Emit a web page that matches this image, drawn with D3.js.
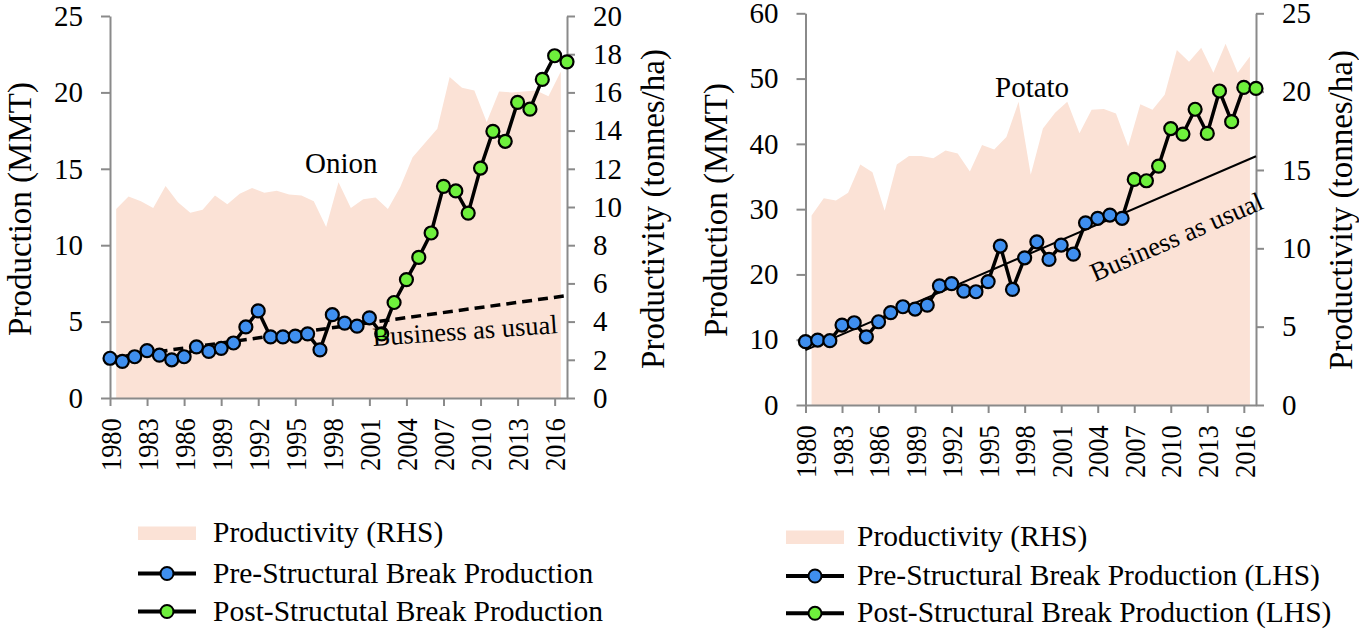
<!DOCTYPE html>
<html>
<head>
<meta charset="utf-8">
<script src="https://cdn.jsdelivr.net/npm/d3@7"></script>
<style>
  html, body { margin: 0; padding: 0; background: #fff; }
  svg { display: block; font-family: "Liberation Serif", "DejaVu Serif", serif; }
</style>
</head>
<body>
<svg id="chart" width="1359" height="632"></svg>
<script>
// ---- data ----
const years = [1980, 1981, 1982, 1983, 1984, 1985, 1986, 1987, 1988, 1989,
    1990, 1991, 1992, 1993, 1994, 1995, 1996, 1997, 1998, 1999,
    2000, 2001, 2002, 2003, 2004, 2005, 2006, 2007, 2008, 2009,
    2010, 2011, 2012, 2013, 2014, 2015, 2016, 2017];
// productivity is plotted on its own category axis (1980-2016)
const productivityYears = years.slice(0, 37);
const tickYears = [1980, 1983, 1986, 1989, 1992, 1995, 1998, 2001, 2004, 2007, 2010, 2013, 2016];

const onionProduction = [2.6, 2.4, 2.7, 3.1, 2.8, 2.5, 2.7, 3.35, 3.05, 3.25,
    3.6, 4.65, 5.7, 4.0, 4.0, 4.05, 4.2, 3.15, 5.45, 4.9,
    4.7, 5.25, 4.2, 6.25, 7.75, 9.2, 10.8, 13.85, 13.55, 12.1,
    15.05, 17.45, 16.8, 19.35, 18.9, 20.85, 22.4, 22.0];
const onionProductivity = [9.9, 10.55, 10.3, 9.95, 11.1, 10.25, 9.7, 9.85, 10.6, 10.15,
    10.7, 11.0, 10.75, 10.85, 10.65, 10.6, 10.3, 8.95, 11.3, 9.95,
    10.4, 10.5, 9.9, 11.05, 12.6, 13.35, 14.1, 16.8, 16.25, 16.1,
    14.45, 16.05, 16.0, 16.05, 16.1, 15.8, 17.1];
const onionBreakYear = 2002;
const onionBau = [{ year: 1980, value: 2.6 }, { year: 2017, value: 6.7 }];

const potatoProduction = [9.7, 9.95, 9.85, 12.25, 12.6, 10.45, 12.75, 14.15, 15.05, 14.7,
    15.3, 18.25, 18.6, 17.45, 17.35, 18.9, 24.35, 17.7, 22.55, 25.0,
    22.3, 24.5, 23.1, 27.9, 28.6, 29.1, 28.6, 34.55, 34.35, 36.6,
    42.35, 41.5, 45.3, 41.6, 48.1, 43.4, 48.65, 48.5];
const potatoProductivity = [12.1, 13.2, 13.05, 13.55, 15.35, 14.85, 12.4, 15.35, 15.9, 15.9,
    15.75, 16.25, 16.05, 14.9, 16.6, 16.3, 17.1, 19.35, 14.7, 17.65,
    18.65, 19.35, 17.35, 18.85, 18.9, 18.6, 16.5, 19.2, 18.85, 19.8,
    22.65, 21.9, 22.8, 21.2, 23.05, 21.2, 22.25];
const potatoBreakYear = 2007;
const potatoBau = [{ year: 1980, value: 8.4 }, { year: 2017, value: 38.1 }];

const onionLeftTicks = [0, 5, 10, 15, 20, 25];
const onionRightTicks = [0, 2, 4, 6, 8, 10, 12, 14, 16, 18, 20];
const potatoLeftTicks = [0, 10, 20, 30, 40, 50, 60];
const potatoRightTicks = [0, 5, 10, 15, 20, 25];

const onionLegend = ["Productivity (RHS)", "Pre-Structural Break Production", "Post-Structutal Break Production"];
const potatoLegend = ["Productivity (RHS)", "Pre-Structural Break Production (LHS)", "Post-Structural Break Production (LHS)"];

// ---- styles ----
const AREA = "#fbe2d6";
const AXIS = "#8a8a8a";
const BLUE = "#3f8fef";
const GREEN = "#6ef03c";

const svg = d3.select("#chart");

function drawPanel(p) {
    const g = svg.append("g");

    const x = d3.scaleLinear().domain([years[0], years[years.length - 1]]).range([p.left, p.right]);
    const xArea = d3.scalePoint().domain(productivityYears).range([p.left, p.right]).padding(0.5);
    const yL = d3.scaleLinear().domain(p.leftDomain).range([p.bottom, p.top]);
    const yR = d3.scaleLinear().domain(p.rightDomain).range([p.bottom, p.top]);

    // productivity area (RHS)
    const area = d3.area()
        .x((d, i) => xArea(productivityYears[i]))
        .y0(p.bottom)
        .y1(d => yR(d));
    g.append("path")
        .datum(p.productivity)
        .attr("d", area)
        .attr("fill", AREA);

    // axes
    const styleAxis = sel => {
        sel.select(".domain").attr("stroke", AXIS).attr("stroke-width", 2);
        sel.selectAll(".tick line").attr("stroke", AXIS).attr("stroke-width", 2);
        sel.selectAll(".tick text").attr("fill", "#000").style("font-size", "29px")
            .style("font-family", "Liberation Serif");
    };

    g.append("g")
        .attr("transform", `translate(${p.left},0)`)
        .call(d3.axisLeft(yL).tickValues(p.leftTicks).tickSize(9).tickSizeOuter(0).tickPadding(18))
        .call(styleAxis);

    g.append("g")
        .attr("transform", `translate(${p.right},0)`)
        .call(d3.axisRight(yR).tickValues(p.rightTicks).tickSize(8).tickSizeOuter(0).tickPadding(18))
        .call(styleAxis);

    const xAxis = g.append("g")
        .attr("transform", `translate(0,${p.bottom})`)
        .call(d3.axisBottom(x).tickValues(tickYears).tickFormat(d3.format("d")).tickSize(8).tickSizeOuter(0))
        .call(styleAxis);
    xAxis.selectAll(".tick text")
        .style("font-size", "30px")
        .attr("text-anchor", "end")
        .attr("x", -23)
        .attr("y", 0)
        .attr("dy", "0.34em")
        .attr("transform", "rotate(-90) scale(0.88,1)");

    // axis titles
    g.append("text")
        .attr("transform", `translate(${p.leftTitleX},${p.titleY}) rotate(-90)`)
        .attr("text-anchor", "middle")
        .attr("dy", "0.35em")
        .style("font-size", "33px")
        .text("Production (MMT)");
    g.append("text")
        .attr("transform", `translate(${p.rightTitleX},${p.titleY}) rotate(-90)`)
        .attr("text-anchor", "middle")
        .attr("dy", "0.35em")
        .style("font-size", "33px")
        .text("Productivity (tonnes/ha)");

    // business as usual
    const bauLine = d3.line().x(d => x(d.year)).y(d => yL(d.value));
    g.append("path")
        .datum(p.bau)
        .attr("d", bauLine)
        .attr("fill", "none")
        .attr("stroke", "#000")
        .attr("stroke-width", p.bauWidth)
        .attr("stroke-dasharray", p.bauDash);

    // production line + markers
    const prodLine = d3.line().x((d, i) => x(years[i])).y(d => yL(d));
    g.append("path")
        .datum(p.production)
        .attr("d", prodLine)
        .attr("fill", "none")
        .attr("stroke", "#000")
        .attr("stroke-width", 3.5)
        .attr("stroke-linejoin", "round");

    g.selectAll(".marker")
        .data(p.production)
        .enter()
        .append("circle")
        .attr("class", "marker")
        .attr("cx", (d, i) => x(years[i]))
        .attr("cy", d => yL(d))
        .attr("r", 6.5)
        .attr("fill", (d, i) => years[i] >= p.breakYear ? GREEN : BLUE)
        .attr("stroke", "#000")
        .attr("stroke-width", 2.2);

    // labels
    g.append("text")
        .attr("x", p.nameX).attr("y", p.nameY)
        .style("font-size", "29px")
        .text(p.name);
    g.append("text")
        .attr("transform", `translate(${p.bauTextX},${p.bauTextY}) rotate(${p.bauTextAngle})`)
        .style("font-size", "26.5px")
        .text("Business as usual");

    // legend
    const lg = g.append("g");
    lg.append("rect")
        .attr("x", p.legX).attr("y", p.legY[0] - 6.5)
        .attr("width", 58).attr("height", 13.5)
        .attr("fill", AREA);
    [BLUE, GREEN].forEach((c, i) => {
        const yy = p.legY[i + 1];
        lg.append("line")
            .attr("x1", p.legX).attr("x2", p.legX + 58)
            .attr("y1", yy).attr("y2", yy)
            .attr("stroke", "#000").attr("stroke-width", 4);
        lg.append("circle")
            .attr("cx", p.legX + 29).attr("cy", yy).attr("r", 6.5)
            .attr("fill", c).attr("stroke", "#000").attr("stroke-width", 2);
    });
    lg.selectAll(".legtext")
        .data(p.legend)
        .enter()
        .append("text")
        .attr("class", "legtext")
        .attr("x", p.legTextX)
        .attr("y", (d, i) => p.legY[i] + 9)
        .style("font-size", "29.5px")
        .text(d => d);
}

drawPanel({
    left: 110, right: 567, top: 16, bottom: 398,
    leftDomain: [0, 25], rightDomain: [0, 20],
    leftTicks: onionLeftTicks, rightTicks: onionRightTicks,
    production: onionProduction, productivity: onionProductivity,
    breakYear: onionBreakYear, bau: onionBau,
    bauWidth: 3.5, bauDash: "10,6",
    leftTitleX: 19, rightTitleX: 652, titleY: 209,
    name: "Onion", nameX: 305, nameY: 173,
    bauTextX: 373, bauTextY: 346, bauTextAngle: -4,
    legX: 138, legTextX: 213, legY: [533, 573.5, 611.5], legend: onionLegend
});

drawPanel({
    left: 805.5, right: 1256, top: 13.3, bottom: 405,
    leftDomain: [0, 60], rightDomain: [0, 25],
    leftTicks: potatoLeftTicks, rightTicks: potatoRightTicks,
    production: potatoProduction, productivity: potatoProductivity,
    breakYear: potatoBreakYear, bau: potatoBau,
    bauWidth: 2, bauDash: null,
    leftTitleX: 715, rightTitleX: 1340, titleY: 210,
    name: "Potato", nameX: 995, nameY: 97,
    bauTextX: 1095, bauTextY: 282, bauTextAngle: -23.5,
    legX: 786, legTextX: 857, legY: [537, 576, 613.3], legend: potatoLegend
});
</script>
</body>
</html>
